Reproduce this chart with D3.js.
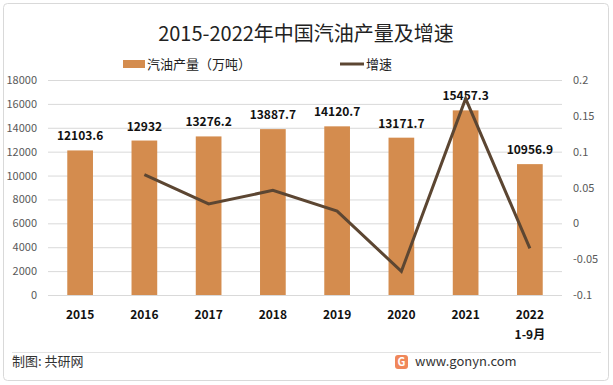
<!DOCTYPE html>
<html>
<head>
<meta charset="utf-8">
<script src="https://cdn.jsdelivr.net/npm/d3@7"></script>
<style>
body { margin: 0; background: #fff; }
svg text { font-family: "Microsoft YaHei", "Noto Sans CJK SC", sans-serif; }
</style>
</head>
<body>
<svg id="chart" width="613" height="385"></svg>
<script>
// data
var years = ["2015", "2016", "2017", "2018", "2019", "2020", "2021", "2022"];
var output = [12103.6, 12932, 13276.2, 13887.7, 14120.7, 13171.7, 15457.3, 10956.9];
var growth = [null, 0.068, 0.027, 0.046, 0.017, -0.067, 0.174, -0.035];
var leftTicks = [0, 2000, 4000, 6000, 8000, 10000, 12000, 14000, 16000, 18000];
var rightTicks = [-0.1, -0.05, 0, 0.05, 0.1, 0.15, 0.2];

var svg = d3.select("#chart");
var barColor = "#D48C4E", lineColor = "#5C4632";

// frame
svg.append("rect").attr("x", 3.5).attr("y", 3.5).attr("width", 605).attr("height", 377)
	.attr("rx", 4).attr("fill", "#fff").attr("stroke", "#d9d9d9");

var plotL = 48, plotR = 562, plotT = 80, plotB = 295;

var x = d3.scaleBand().domain(years).range([plotL, plotR]).paddingInner(0.6).paddingOuter(0.3);
var y = d3.scaleLinear().domain([0, 18000]).range([plotB, plotT]);
var y2 = d3.scaleLinear().domain([-0.1, 0.2]).range([plotB, plotT]);

// title
svg.append("text").attr("x", 306).attr("y", 41).attr("text-anchor", "middle")
	.attr("font-size", 20).attr("fill", "#222").text("2015-2022年中国汽油产量及增速");

// legend
svg.append("rect").attr("x", 123).attr("y", 60).attr("width", 22).attr("height", 8).attr("fill", barColor);
svg.append("text").attr("x", 147).attr("y", 69).attr("font-size", 13).attr("fill", "#222").text("汽油产量（万吨）");
svg.append("line").attr("x1", 340).attr("x2", 364).attr("y1", 64).attr("y2", 64)
	.attr("stroke", lineColor).attr("stroke-width", 3);
svg.append("text").attr("x", 366).attr("y", 69).attr("font-size", 13).attr("fill", "#222").text("增速");

// gridlines
svg.append("g").selectAll("line").data(leftTicks).enter().append("line")
	.attr("x1", plotL).attr("x2", plotR).attr("y1", function(d) { return y(d) + 0.5; })
	.attr("y2", function(d) { return y(d) + 0.5; })
	.attr("stroke", "#d9d9d9");

// left axis labels
svg.append("g").selectAll("text").data(leftTicks).enter().append("text")
	.attr("x", 37).attr("y", function(d) { return y(d) + 4; })
	.attr("text-anchor", "end").attr("font-size", 11).attr("fill", "#595959")
	.text(function(d) { return d; });

// right axis labels
svg.append("g").selectAll("text").data(rightTicks).enter().append("text")
	.attr("x", 573).attr("y", function(d) { return y2(d) + 4; })
	.attr("font-size", 11).attr("fill", "#595959")
	.text(function(d) { return d; });

// bars
svg.append("g").selectAll("rect").data(output).enter().append("rect")
	.attr("x", function(d, i) { return x(years[i]); })
	.attr("y", function(d) { return y(d); })
	.attr("width", x.bandwidth())
	.attr("height", function(d) { return plotB - y(d); })
	.attr("fill", barColor);

// bar labels
svg.append("g").selectAll("text").data(output).enter().append("text")
	.attr("x", function(d, i) { return x(years[i]) + x.bandwidth() / 2; })
	.attr("y", function(d) { return y(d) - 10; })
	.attr("text-anchor", "middle").attr("font-size", 12).attr("font-weight", "bold").attr("fill", "#111")
	.text(function(d) { return d; });

// growth line
var pts = growth.map(function(g, i) { return [years[i], g]; }).filter(function(p) { return p[1] != null; });
svg.append("path").datum(pts)
	.attr("fill", "none").attr("stroke", lineColor).attr("stroke-width", 3)
	.attr("d", d3.line()
		.x(function(p) { return x(p[0]) + x.bandwidth() / 2; })
		.y(function(p) { return y2(p[1]); }));

// x labels
svg.append("g").selectAll("text").data(years).enter().append("text")
	.attr("x", function(d) { return x(d) + x.bandwidth() / 2; })
	.attr("y", 319).attr("text-anchor", "middle")
	.attr("font-size", 12).attr("font-weight", "bold").attr("fill", "#111")
	.text(function(d) { return d; });
svg.append("text").attr("x", x("2022") + x.bandwidth() / 2).attr("y", 339).attr("text-anchor", "middle")
	.attr("font-size", 12).attr("font-weight", "bold").attr("fill", "#111").text("1-9月");

// footer
svg.append("line").attr("x1", 12).attr("x2", 601).attr("y1", 352.5).attr("y2", 352.5).attr("stroke", "#e3e3e3");
svg.append("text").attr("x", 12).attr("y", 366).attr("font-size", 13).attr("fill", "#333").text("制图: 共研网");
svg.append("rect").attr("x", 395).attr("y", 355).attr("width", 13).attr("height", 14).attr("rx", 3).attr("fill", "#F0875A");
svg.append("text").attr("x", 401.5).attr("y", 366).attr("text-anchor", "middle").attr("font-size", 11)
	.attr("font-weight", "bold").attr("fill", "#fff").text("G");
svg.append("text").attr("x", 415).attr("y", 366).attr("font-size", 13).attr("fill", "#333").text("www.gonyn.com");
</script>
</body>
</html>
